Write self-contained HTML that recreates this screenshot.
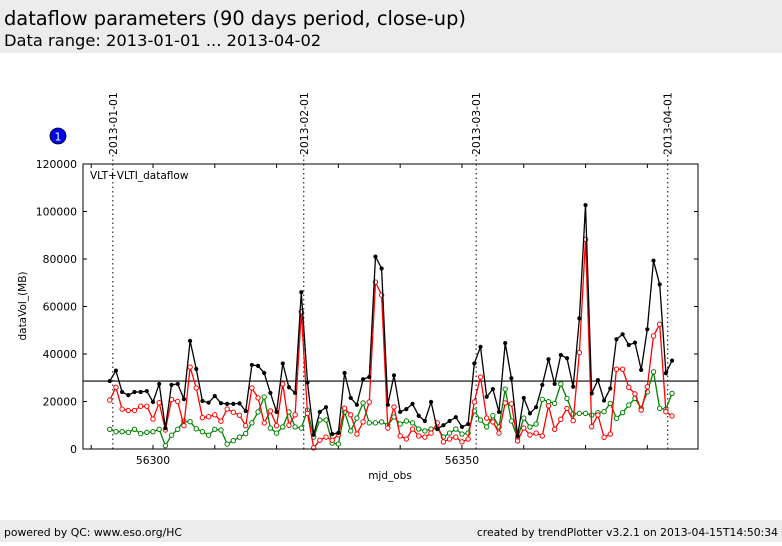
<!DOCTYPE html>
<html><head><meta charset="utf-8"><style>
body{margin:0;width:782px;height:542px;background:#fff;overflow:hidden;font-family:"DejaVu Sans",sans-serif}
</style></head><body>
<svg width="782" height="542" xmlns="http://www.w3.org/2000/svg" font-family="DejaVu Sans, sans-serif">
<rect x="0" y="0" width="782" height="53" fill="#ececec"/>
<text x="4" y="25" font-size="19.4">dataflow parameters (90 days period, close-up)</text>
<text x="4" y="46" font-size="16.3">Data range: 2013-01-01 ... 2013-04-02</text>
<rect x="0" y="520" width="782" height="22" fill="#ececec"/>
<text x="4" y="536" font-size="10.8">powered by QC: www.eso.org/HC</text>
<text x="778" y="536" font-size="10.8" text-anchor="end">created by trendPlotter v3.2.1 on 2013-04-15T14:50:34</text>
<circle cx="58" cy="136" r="8" fill="#0000ee" stroke="#000" stroke-width="0.8"/>
<text x="58" y="140.5" font-size="11" fill="#fff" text-anchor="middle">1</text>
<g id="plot"></g>
<rect x="83" y="164" width="615" height="285" fill="none" stroke="#000" stroke-width="1"/>
<text x="90" y="179" font-size="10.5">VLT+VLTI_dataflow</text>
<text x="390" y="479" font-size="10.5" text-anchor="middle">mjd_obs</text>
<text transform="translate(26,306) rotate(-90)" font-size="10.5" text-anchor="middle">dataVol_(MB)</text>
</svg>
<script>
const mjdStart = 56293;
const totalVol = [28.6,33,24,22.7,24,24,24.4,19.8,27.4,8.8,27,27.4,21,45.5,33.7,20.2,19.5,22.3,19.3,19,19,19.2,16,
35.4,35,32,23.6,15.6,36,26,23.6,66,28,6,15.6,17.6,6.3,6.8,32,21.5,18.6,29.4,30.3,81,76,18.6,31,
15.6,16.8,19,14,11.8,19.8,8.4,10,11.8,13.4,9.3,10.5,36,43,22,25.2,15.6,44.6,29.8,5.5,21.5,15,17.6,
27,37.8,27.4,39.6,38.2,26.2,55,102.7,23.4,29,20.4,25.5,46.2,48.3,43.8,44.8,33.3,50.4,79.3,69.3,31.9,37.2];
const redVol = [20.6,26,16.8,16.2,16.2,18,18,12.6,19.5,8,20.8,20,9.8,34.5,25.7,13.2,13.6,14.4,11.7,16.8,15.5,14.2,9.8,
25.7,21.5,11,16,9.8,27.4,10,14.4,57.8,15,0.5,3.7,5,3.7,6,17.2,14.4,6.3,11.4,19.8,70.3,64.8,8.8,17.7,
5.5,4.2,8.4,5.5,5,6.7,11,3,4.2,5,3,4.2,19.8,30.3,13,11.4,6.7,19.4,19,3.4,8.8,5.9,6.7,
5.5,18.2,8.3,12.5,17.1,11.9,40.6,88.3,9.4,14.3,4.9,6.3,33.6,33.6,26,23.2,16.4,26.2,47.6,52.5,15.7,13.9];
const greenVol = [8.3,7.3,7.3,7,8.3,6.5,7,7.3,8.3,1.4,5.8,8.3,11.7,11.5,8.5,7.3,5.8,8.3,8,2.1,3.5,5,6.5,
11,15.6,21.9,8.8,6.7,9.3,15.6,9.3,8.8,16.4,5,12.2,12.2,2.5,2.1,15.6,7.6,13,19.4,11,11,11.4,10,13.5,
10.5,11.8,11,8.4,7.6,8.4,8.8,5,6.7,8.4,6.3,6.7,16,12.2,9.3,14,9.3,25.2,11.8,4.6,13,9.3,10.5,
20.9,19.9,19.2,27.4,21.3,14.7,15,15,14.3,15.3,15.7,19.2,12.9,15.3,18.5,21.3,17.1,24.1,32.5,17.1,16.7,23.4];
const meanVol = 28.6;
const yTicks = [0,20000,40000,60000,80000,100000,120000];
const xTicks = [56300,56350];
const xMinor = [56290,56310,56320,56330,56340,56360,56370,56380];
const dateLabels = ["2013-01-01","2013-02-01","2013-03-01","2013-04-01"];
const dateMjd = [56293.5,56324.4,56352.3,56383.3];

const NS="http://www.w3.org/2000/svg";
const g=document.getElementById('plot');
const X0=83,X1=698,Y0=449,Y1=164, MJD0=56288.67, MJD1=56388.2;
function xs(m){return X0+(m-MJD0)/(MJD1-MJD0)*(X1-X0);}
function ys(v){return Y0-v/120000*(Y0-Y1);}
function el(t,a){const e=document.createElementNS(NS,t);for(const k in a)e.setAttribute(k,a[k]);g.appendChild(e);return e;}

yTicks.forEach(v=>{
  const t=el('text',{x:77,y:ys(v)+4,'font-size':10.8,'text-anchor':'end'});t.textContent=v;
  
  
  const l=el('line',{x1:X0,x2:X0+4,y1:ys(v),y2:ys(v),stroke:'#000'});
  
  
  const r=el('line',{x1:X1-4,x2:X1,y1:ys(v),y2:ys(v),stroke:'#000'});
  
  
});
xTicks.concat(xMinor).forEach((m,i)=>{
  const major=i<xTicks.length;
  const l=el('line',{x1:xs(m),x2:xs(m),y1:Y0,y2:Y0-4,stroke:'#000'});
  
  
  const u=el('line',{x1:xs(m),x2:xs(m),y1:Y1,y2:Y1+4,stroke:'#000'});
  
  
  if(major){const t=el('text',{x:xs(m),y:464,'font-size':10.8,'text-anchor':'middle'});t.textContent=m;
  
  }
});
dateLabels.forEach((d,i)=>{
  const x=xs(dateMjd[i]);
  const l=el('line',{x1:x,x2:x,y1:155,y2:Y0,stroke:'#000','stroke-dasharray':'1.5,3'});
  
  
  const t=el('text',{transform:`translate(${x+4},155) rotate(-90)`,'font-size':10.8});t.textContent=d;
  
  
});
const ml=el('line',{x1:X0,x2:X1,y1:ys(meanVol*1000),y2:ys(meanVol*1000),stroke:'#000','stroke-width':1.2});



function series(arr,color,name,filled){
  const pts=arr.map((v,i)=>xs(mjdStart+i).toFixed(1)+','+ys(v*1000).toFixed(1)).join(' ');
  const p=el('polyline',{points:pts,fill:'none',stroke:color,'stroke-width':1.3});
  
  
  arr.forEach((v,i)=>{
    const c=el('circle',{cx:xs(mjdStart+i),cy:ys(v*1000),r:filled?1.6:2.2,fill:filled?color:'#fff',stroke:color,'stroke-width':1});
    
    
  });
}
series(greenVol,'#008000','green-series',false);
series(redVol,'#ff0000','red-series',false);
series(totalVol,'#000','total-series',true);
</script>
</body></html>
